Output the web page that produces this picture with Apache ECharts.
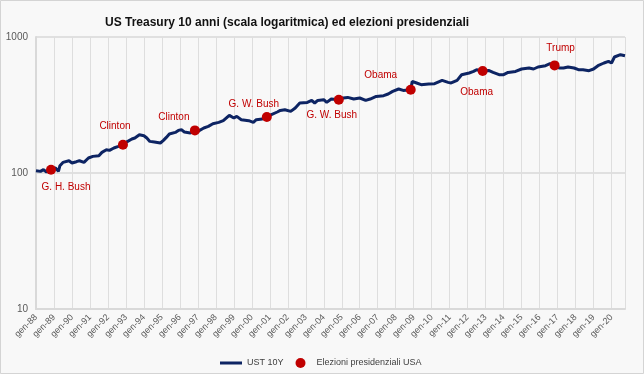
<!DOCTYPE html>
<html>
<head>
<meta charset="utf-8">
<script src="https://cdn.jsdelivr.net/npm/echarts@6/dist/echarts.min.js"></script>
<style>
html,body{margin:0;padding:0;background:#f8f8f8;}
#chart{width:644px;height:374px;}
</style>
</head>
<body>
<div id="chart"></div>
<script>
// UST 10Y index (monthly points)
const lineDates = ['1988-01','1988-04','1988-06','1988-08','1988-11','1989-02','1989-04','1989-05','1989-07','1989-11',
'1990-01','1990-04','1990-06','1990-09','1990-12','1991-03','1991-07','1991-09','1991-12','1992-02',
'1992-05','1992-08','1992-11','1993-01','1993-05','1993-07','1993-10','1994-01','1994-03','1994-05',
'1994-08','1994-12','1995-02','1995-04','1995-06','1995-10','1995-12','1996-02','1996-04','1996-08',
'1996-11','1997-01','1997-05','1997-08','1997-11','1998-03','1998-06','1998-10','1999-01','1999-03',
'1999-06','1999-11','2000-02','2000-04','2000-08','2000-11','2001-02','2001-06','2001-08','2001-11',
'2002-03','2002-06','2002-09','2003-02','2003-05','2003-07','2003-09','2004-01','2004-03','2004-06',
'2004-11','2005-02','2005-05','2005-09','2006-01','2006-05','2006-08','2006-12','2007-05','2007-08',
'2007-11','2008-03','2008-06','2008-11','2008-12','2009-03','2009-06','2009-11','2010-03','2010-08',
'2010-12','2011-02','2011-06','2011-09','2012-02','2012-05','2012-07','2012-11','2013-03','2013-06',
'2013-10','2014-01','2014-04','2014-09','2015-01','2015-06','2015-09','2015-12','2016-05','2016-08',
'2016-11','2017-02','2017-05','2017-08','2017-12','2018-03','2018-06','2018-10','2019-01','2019-04',
'2019-08','2019-11','2020-01','2020-03','2020-07','2020-10'];
const lineValues = [104.0,102.8,105.8,101.7,105.8,108.8,102.8,113.2,119.6,123.1,
118.4,121.1,123.1,119.6,128.9,132.5,134.1,141.8,148.4,146.6,
152.7,156.9,161.5,167.9,177.8,180.9,191.2,188.0,180.9,170.8,
169.0,166.2,173.7,182.7,193.6,198.9,205.7,208.2,200.3,196.9,
205.7,202.3,214.2,220.1,230.4,235.5,242.4,265.2,253.8,260.8,
246.6,242.4,235.5,246.6,249.5,258.1,268.4,280.9,288.6,292.0,
283.8,300.6,327.1,330.4,341.8,327.1,341.8,345.9,330.4,350.0,
345.9,356.0,359.6,350.0,356.0,341.8,350.0,365.7,370.1,380.9,
398.1,414.6,404.9,409.7,471.6,459.1,446.1,451.4,453.7,479.6,
463.7,459.1,479.6,528.2,543.6,558.5,574.9,562.3,568.1,549.1,
528.2,528.2,549.1,558.5,581.7,591.7,581.7,601.8,615.2,636.3,
618.4,591.7,591.7,601.8,591.7,574.9,574.9,565.3,581.7,615.2,
643.9,661.6,643.9,712.7,741.2,728.7];

// US presidential elections
const electionDates = ['1988-11','1992-11','1996-11','2000-11','2004-11','2008-11','2012-11','2016-11'];
const electionValues = [105.8,161.5,205.7,258.1,345.9,409.7,562.3,618.4];
const electionNames = ['G. H. Bush','Clinton','Clinton','G. W. Bush','G. W. Bush','Obama','Obama','Trump'];

const yTicks = [10, 100, 1000];
const seriesNames = ['UST 10Y','Elezioni presidenziali USA'];

// label placement (styling)
const labelOffsets = [[15,18],[-8,-18],[-21,-13],[-13,-13],[-7,16],[-30,-14],[-6,21],[6,-17]];

const toTime = s => s + '-01';
const font = 'Liberation Sans, Arial, sans-serif';
const navy = '#0d2463';
const red = '#c00000';

const chart = echarts.init(document.getElementById('chart'), null, {renderer:'canvas'});
chart.setOption({
  backgroundColor: '#f8f8f8',
  animation: false,
  title: {
    text: 'US Treasury 10 anni (scala logaritmica) ed elezioni presidenziali',
    left: 100, top: 12,
    textStyle: {fontFamily: font, fontSize: 12, fontWeight: 'bold', color: '#111111'}
  },
  graphic: [{
    type: 'rect', shape: {x: 0.5, y: 0.5, width: 643, height: 373},
    style: {fill: 'none', stroke: '#d4d4d4', lineWidth: 1}, silent: true, z: 100
  }],
  grid: {left: 36, right: 19, top: 37, bottom: 65, containLabel: false},
  legend: {
    left: 215, top: 353, itemGap: 12, itemWidth: 22, itemHeight: 10,
    textStyle: {fontFamily: font, fontSize: 9, color: '#404040'},
    data: [
      {name: seriesNames[0], icon: 'path://M0,0L22,0L22,3L0,3Z', itemStyle: {color: navy}},
      {name: seriesNames[1], icon: 'circle', itemStyle: {color: red}}
    ]
  },
  xAxis: {
    type: 'time',
    min: toTime('1988-01'),
    max: toTime(lineDates[lineDates.length - 1]),
    splitNumber: 33,
    minInterval: 365 * 24 * 3600 * 1000,
    maxInterval: 366 * 24 * 3600 * 1000,
    axisLine: {show: true, lineStyle: {color: '#d9d9d9', width: 2}},
    axisTick: {show: false},
    axisLabel: {
      rotate: 45, margin: 7, fontFamily: font, fontSize: 9, color: '#595959',
      showMaxLabel: false, hideOverlap: false,
      formatter: v => 'gen-' + String(new Date(v).getFullYear()).slice(2)
    },
    splitLine: {show: true, lineStyle: {color: '#dedede', width: 1}}
  },
  yAxis: {
    type: 'log', logBase: 10, min: yTicks[0], max: yTicks[yTicks.length - 1],
    axisLine: {show: true, lineStyle: {color: '#d9d9d9', width: 2}},
    axisTick: {show: false},
    axisLabel: {fontFamily: font, fontSize: 10, color: '#595959', margin: 8,
      formatter: v => String(Math.round(v))},
    splitLine: {show: true, lineStyle: {color: '#e0e0e0', width: 2}}
  },
  series: [{
    name: seriesNames[0], type: 'line', showSymbol: false, symbol: 'none',
    lineStyle: {color: navy, width: 3}, itemStyle: {color: navy},
    data: lineDates.map((d, i) => [toTime(d), lineValues[i]]), z: 2
  }, {
    name: seriesNames[1], type: 'scatter', symbol: 'circle', symbolSize: 10,
    itemStyle: {color: red, opacity: 1}, z: 3,
    data: electionDates.map((d, i) => ({
      value: [toTime(d), electionValues[i]],
      name: electionNames[i],
      label: {offset: labelOffsets[i]}
    })),
    label: {
      show: true, position: 'inside', formatter: p => p.name,
      fontFamily: font, fontSize: 10, color: red
    }
  }]
});
</script>
</body>
</html>
